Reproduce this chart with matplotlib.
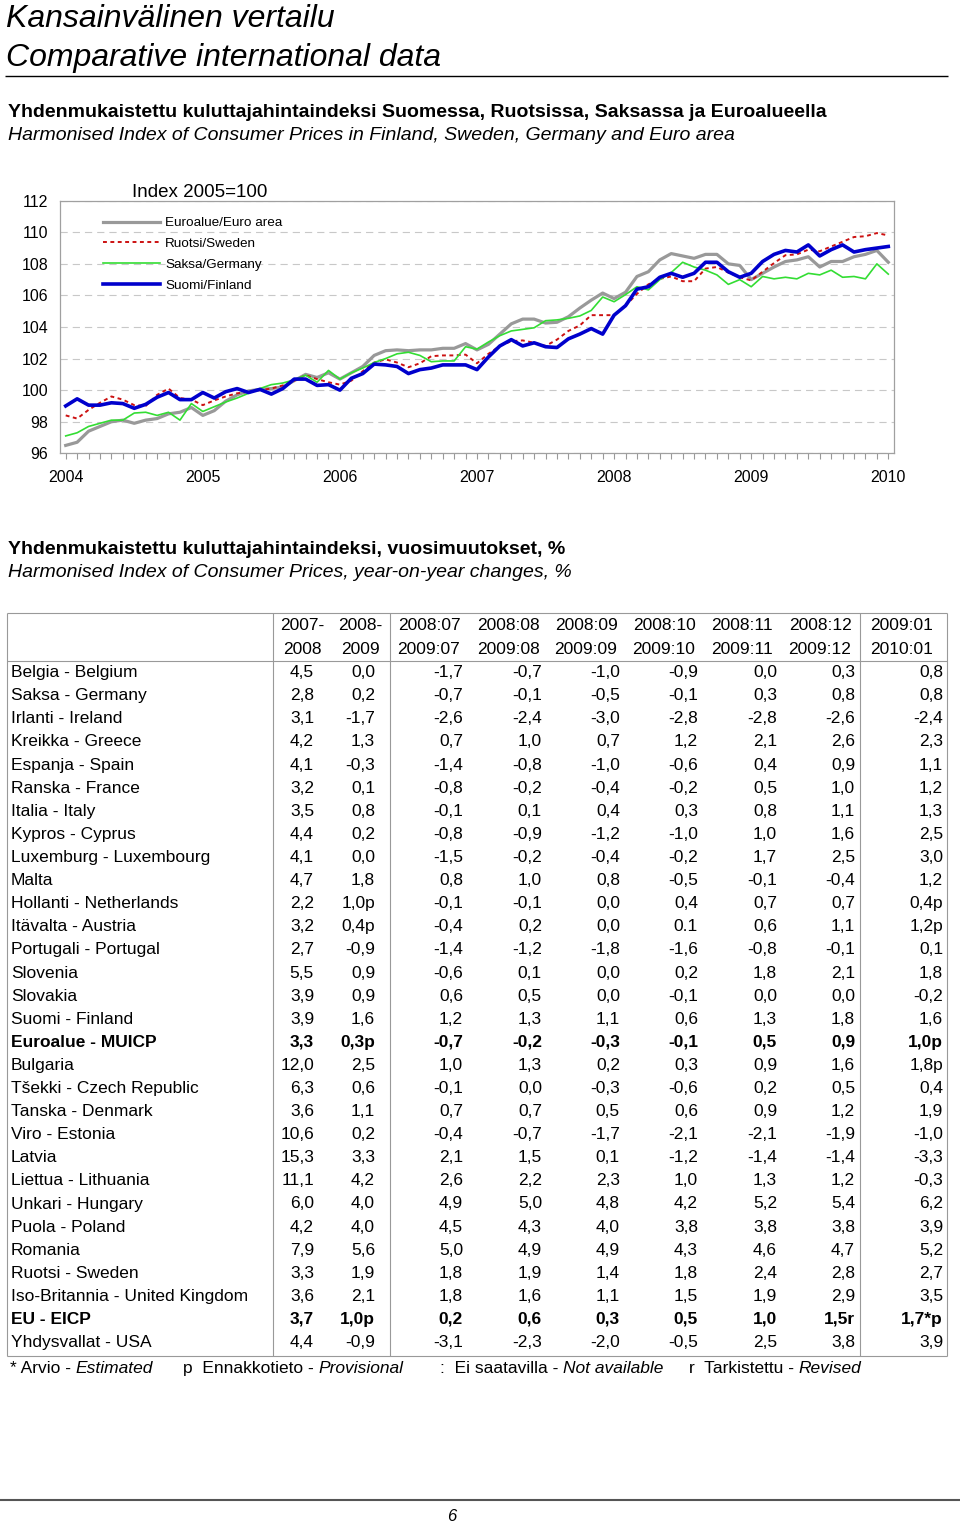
import numpy as np
import matplotlib
matplotlib.use('Agg')
import matplotlib.pyplot as plt
from matplotlib.lines import Line2D

plt.rcParams['font.family'] = ['Liberation Sans', 'DejaVu Sans']

W, H = 960, 1523

# --- kuvion data: kuukausittain 2004:01 - 2010:01, indeksi 2005=100 ---
euroalue = [96.5, 96.7, 97.4, 97.7, 98.0, 98.1, 97.9, 98.1, 98.2, 98.5, 98.6, 98.9,
            98.4, 98.7, 99.3, 99.7, 99.95, 100.05, 100.1, 100.2, 100.6, 101.0, 100.8, 101.1,
            100.7, 101.1, 101.5, 102.2, 102.5, 102.55, 102.5, 102.55, 102.55, 102.65, 102.65, 102.95,
            102.55, 102.9, 103.55, 104.2, 104.5, 104.5, 104.25, 104.3, 104.65, 105.2, 105.7, 106.15,
            105.8, 106.2, 107.2, 107.5, 108.25, 108.65, 108.5, 108.35, 108.6, 108.6, 108.0, 107.9,
            107.0, 107.4, 107.8, 108.15, 108.25, 108.45, 107.8, 108.15, 108.15, 108.45, 108.6, 108.85,
            108.1]
ruotsi = [98.4, 98.2, 98.75, 99.2, 99.6, 99.4, 99.05, 99.0, 99.7, 100.1, 99.5, 99.4,
          99.05, 99.35, 99.6, 99.8, 99.9, 100.0, 100.1, 100.3, 100.6, 100.95, 100.7, 100.5,
          100.35, 100.6, 101.2, 101.75, 101.95, 101.75, 101.45, 101.7, 102.15, 102.2, 102.2, 102.25,
          101.7, 102.3, 102.8, 103.1, 103.15, 103.0, 102.8, 103.2, 103.75, 104.1, 104.75, 104.75,
          104.75, 105.35, 106.1, 106.7, 107.05, 107.2, 106.9, 106.9, 107.7, 107.8, 107.45, 107.15,
          106.95, 107.5, 108.05, 108.55, 108.6, 108.9, 108.8, 109.1, 109.4, 109.7, 109.75, 109.95,
          109.8]
saksa = [97.1, 97.3, 97.7, 97.9, 98.1, 98.1, 98.55, 98.6, 98.4, 98.6, 98.1, 99.15,
         98.65, 98.95, 99.25, 99.5, 99.8, 100.1, 100.35, 100.45, 100.65, 100.95, 100.5, 101.25,
         100.7, 101.1, 101.4, 101.75, 102.0, 102.3, 102.4, 102.2, 101.8, 101.85, 101.85, 102.75,
         102.6, 103.05, 103.45, 103.75, 103.85, 103.95, 104.4, 104.45, 104.55, 104.7, 105.05, 105.9,
         105.6, 106.05, 106.55, 106.35, 107.0, 107.45, 108.1, 107.8, 107.6, 107.3, 106.7, 107.0,
         106.55, 107.2, 107.05, 107.15, 107.05, 107.4, 107.3, 107.6, 107.15, 107.2, 107.05, 108.0,
         107.35]
suomi = [99.0, 99.45, 99.05, 99.05, 99.2, 99.15, 98.85, 99.1, 99.55, 99.85, 99.4, 99.4,
         99.85, 99.5, 99.9, 100.1, 99.85, 100.05, 99.75, 100.1, 100.7, 100.7, 100.3, 100.35,
         100.0, 100.75, 101.05, 101.65, 101.6, 101.5, 101.05, 101.3, 101.4, 101.6, 101.6, 101.6,
         101.3, 102.1, 102.8, 103.2, 102.8, 103.0, 102.75, 102.7, 103.25, 103.55, 103.9, 103.55,
         104.75, 105.35, 106.4, 106.55, 107.15, 107.4, 107.15, 107.4, 108.1, 108.1, 107.5, 107.15,
         107.4, 108.15, 108.6, 108.85, 108.75, 109.2, 108.5, 108.9, 109.2, 108.75, 108.9, 109.0,
         109.1]
vuodet = ['2004', '2005', '2006', '2007', '2008', '2009', '2010']

# --- taulukon data ---
sarakkeet1 = ['2007-', '2008-', '2008:07', '2008:08', '2008:09', '2008:10', '2008:11', '2008:12', '2009:01']
sarakkeet2 = ['2008', '2009', '2009:07', '2009:08', '2009:09', '2009:10', '2009:11', '2009:12', '2010:01']
maat = ['Belgia - Belgium', 'Saksa - Germany', 'Irlanti - Ireland', 'Kreikka - Greece',
        'Espanja - Spain', 'Ranska - France', 'Italia - Italy', 'Kypros - Cyprus',
        'Luxemburg - Luxembourg', 'Malta', 'Hollanti - Netherlands', 'Itävalta - Austria',
        'Portugali - Portugal', 'Slovenia', 'Slovakia', 'Suomi - Finland', 'Euroalue - MUICP',
        'Bulgaria', 'Tšekki - Czech Republic', 'Tanska - Denmark', 'Viro - Estonia', 'Latvia',
        'Liettua - Lithuania', 'Unkari - Hungary', 'Puola - Poland', 'Romania', 'Ruotsi - Sweden',
        'Iso-Britannia - United Kingdom', 'EU - EICP', 'Yhdysvallat - USA']
muutokset = [
    ['4,5', '0,0', '-1,7', '-0,7', '-1,0', '-0,9', '0,0', '0,3', '0,8'],
    ['2,8', '0,2', '-0,7', '-0,1', '-0,5', '-0,1', '0,3', '0,8', '0,8'],
    ['3,1', '-1,7', '-2,6', '-2,4', '-3,0', '-2,8', '-2,8', '-2,6', '-2,4'],
    ['4,2', '1,3', '0,7', '1,0', '0,7', '1,2', '2,1', '2,6', '2,3'],
    ['4,1', '-0,3', '-1,4', '-0,8', '-1,0', '-0,6', '0,4', '0,9', '1,1'],
    ['3,2', '0,1', '-0,8', '-0,2', '-0,4', '-0,2', '0,5', '1,0', '1,2'],
    ['3,5', '0,8', '-0,1', '0,1', '0,4', '0,3', '0,8', '1,1', '1,3'],
    ['4,4', '0,2', '-0,8', '-0,9', '-1,2', '-1,0', '1,0', '1,6', '2,5'],
    ['4,1', '0,0', '-1,5', '-0,2', '-0,4', '-0,2', '1,7', '2,5', '3,0'],
    ['4,7', '1,8', '0,8', '1,0', '0,8', '-0,5', '-0,1', '-0,4', '1,2'],
    ['2,2', '1,0p', '-0,1', '-0,1', '0,0', '0,4', '0,7', '0,7', '0,4p'],
    ['3,2', '0,4p', '-0,4', '0,2', '0,0', '0.1', '0,6', '1,1', '1,2p'],
    ['2,7', '-0,9', '-1,4', '-1,2', '-1,8', '-1,6', '-0,8', '-0,1', '0,1'],
    ['5,5', '0,9', '-0,6', '0,1', '0,0', '0,2', '1,8', '2,1', '1,8'],
    ['3,9', '0,9', '0,6', '0,5', '0,0', '-0,1', '0,0', '0,0', '-0,2'],
    ['3,9', '1,6', '1,2', '1,3', '1,1', '0,6', '1,3', '1,8', '1,6'],
    ['3,3', '0,3p', '-0,7', '-0,2', '-0,3', '-0,1', '0,5', '0,9', '1,0p'],
    ['12,0', '2,5', '1,0', '1,3', '0,2', '0,3', '0,9', '1,6', '1,8p'],
    ['6,3', '0,6', '-0,1', '0,0', '-0,3', '-0,6', '0,2', '0,5', '0,4'],
    ['3,6', '1,1', '0,7', '0,7', '0,5', '0,6', '0,9', '1,2', '1,9'],
    ['10,6', '0,2', '-0,4', '-0,7', '-1,7', '-2,1', '-2,1', '-1,9', '-1,0'],
    ['15,3', '3,3', '2,1', '1,5', '0,1', '-1,2', '-1,4', '-1,4', '-3,3'],
    ['11,1', '4,2', '2,6', '2,2', '2,3', '1,0', '1,3', '1,2', '-0,3'],
    ['6,0', '4,0', '4,9', '5,0', '4,8', '4,2', '5,2', '5,4', '6,2'],
    ['4,2', '4,0', '4,5', '4,3', '4,0', '3,8', '3,8', '3,8', '3,9'],
    ['7,9', '5,6', '5,0', '4,9', '4,9', '4,3', '4,6', '4,7', '5,2'],
    ['3,3', '1,9', '1,8', '1,9', '1,4', '1,8', '2,4', '2,8', '2,7'],
    ['3,6', '2,1', '1,8', '1,6', '1,1', '1,5', '1,9', '2,9', '3,5'],
    ['3,7', '1,0p', '0,2', '0,6', '0,3', '0,5', '1,0', '1,5r', '1,7*p'],
    ['4,4', '-0,9', '-3,1', '-2,3', '-2,0', '-0,5', '2,5', '3,8', '3,9'],
]
lihavoidut = ['Euroalue - MUICP', 'EU - EICP']


def fx(x):
    return x / W


def fy(y):
    return 1 - y / H


def viiva(x0, x1, y0, y1, c='#999999', lw=0.8):
    fig.add_artist(Line2D([fx(x0), fx(x1)], [fy(y0), fy(y1)], transform=fig.transFigure,
                          color=c, lw=lw, solid_capstyle='butt'))


fig = plt.figure(figsize=(W / 100, H / 100), dpi=100)

# otsikot
fig.text(fx(6), fy(27), 'Kansainvälinen vertailu', style='italic', fontsize=23)
fig.text(fx(6), fy(66), 'Comparative international data', style='italic', fontsize=23)
viiva(5, 948, 75.5, 75.5, c='black', lw=1.0)
fig.text(fx(8), fy(117), 'Yhdenmukaistettu kuluttajahintaindeksi Suomessa, Ruotsissa, Saksassa ja Euroalueella',
         weight='bold', fontsize=14)
fig.text(fx(8), fy(140), 'Harmonised Index of Consumer Prices in Finland, Sweden, Germany and Euro area',
         style='italic', fontsize=14)

# --- viivakuvio ---
ax = fig.add_axes([fx(60), fy(453.3), (894 - 60) / W, (453.3 - 200.7) / H])
kk = np.arange(len(suomi))
ax.plot(kk, euroalue, color='#999999', lw=2.3, label='Euroalue/Euro area')
ax.plot(kk, ruotsi, color='#cc1111', lw=1.4, ls=(0, (2, 1.8)), label='Ruotsi/Sweden')
ax.plot(kk, saksa, color='#33dd33', lw=1.2, label='Saksa/Germany')
ax.plot(kk, suomi, color='#0000cc', lw=2.6, label='Suomi/Finland')

ax.set_xlim(-0.5, len(suomi) - 0.5)
ax.set_ylim(96, 112)
ax.set_yticks(range(96, 113, 2))
ax.set_xticks(np.arange(0, len(suomi), 12))
ax.set_xticklabels(vuodet)
ax.set_xticks(kk, minor=True)
ax.tick_params(axis='y', length=0, pad=8.5, labelsize=11.5)
ax.tick_params(axis='x', which='both', direction='out', length=4, width=0.8, color='#999999',
               labelsize=11.5, pad=8)
ax.yaxis.grid(True, color='#c8c8c8', lw=0.8, ls=(0, (6.5, 4.5)))
for s in ax.spines.values():
    s.set_color('#a0a0a0')
    s.set_linewidth(0.9)

ax.legend(loc='upper left', bbox_to_anchor=(fx(103), fy(217)), bbox_transform=fig.transFigure,
          frameon=False, fontsize=9.7, handlelength=4.2, handletextpad=0.4, labelspacing=0.62,
          borderpad=0, borderaxespad=0)
fig.text(fx(132), fy(197), 'Index 2005=100', fontsize=13.5)

# --- taulukko ---
fig.text(fx(8), fy(554), 'Yhdenmukaistettu kuluttajahintaindeksi, vuosimuutokset, %',
         weight='bold', fontsize=14)
fig.text(fx(8), fy(577), 'Harmonised Index of Consumer Prices, year-on-year changes, %',
         style='italic', fontsize=14)

ylä, ala = 613, 1356
viiva(7, 946.5, ylä, ylä)
viiva(7, 946.5, ala, ala)
viiva(7, 946.5, 661, 661)
for xv in [7, 273, 390, 860, 946.5]:
    viiva(xv, xv, ylä, ala)

oikeat = [314, 375, 463, 542, 620, 698, 777, 855, 943]
keskit = [302, 360, 429, 508, 586, 664, 742, 820, 902]
for j in range(len(sarakkeet1)):
    fig.text(fx(keskit[j]), fy(625), sarakkeet1[j], ha='center', va='center', fontsize=12.5)
    fig.text(fx(keskit[j]), fy(649), sarakkeet2[j], ha='center', va='center', fontsize=12.5)

for i, maa in enumerate(maat):
    yy = 672.7 + 23.1 * i
    paino = 'bold' if maa in lihavoidut else 'normal'
    fig.text(fx(11), fy(yy), maa, va='center', fontsize=12.5, weight=paino)
    for j, arvo in enumerate(muutokset[i]):
        fig.text(fx(oikeat[j]), fy(yy), arvo, ha='right', va='center', fontsize=12.5, weight=paino)

# selitteet: tavallinen osa + kursivoitu osa heti perään
selitteet = [(10, '* Arvio -', 'Estimated'),
             (183, 'p  Ennakkotieto -', 'Provisional'),
             (440, ':  Ei saatavilla -', 'Not available'),
             (689, 'r  Tarkistettu -', 'Revised')]
r = fig.canvas.get_renderer()
for x0, teksti, kursiivi in selitteet:
    t = fig.text(fx(x0), fy(1373), teksti, fontsize=12.5)
    bb = t.get_window_extent(renderer=r)
    fig.text((bb.x1 + 4.5) / W, fy(1373), kursiivi, style='italic', fontsize=12.5)

viiva(0, 960, 1500, 1500, c='#555555', lw=1.5)
fig.text(fx(452), fy(1521), '6', style='italic', fontsize=12, ha='center')

fig.savefig('out.png', dpi=100)
